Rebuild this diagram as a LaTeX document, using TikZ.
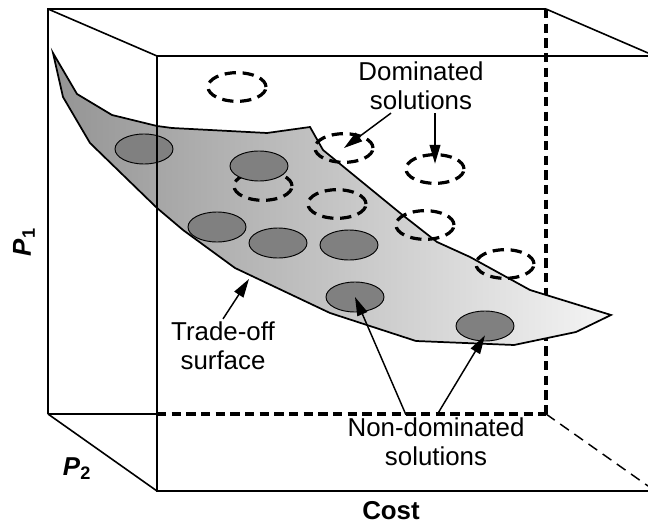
\documentclass[tikz,border=0pt]{standalone}
\usepackage{fontspec}
\setmainfont{Liberation Sans}
\usepackage{xcolor}
\usetikzlibrary{arrows.meta,positioning,calc,shapes.geometric}

\definecolor{surfdark}{gray}{0.58}
\definecolor{surflight}{gray}{0.96}
\definecolor{solgray}{gray}{0.5}

\begin{document}
\begin{tikzpicture}[x=0.75pt, y=-0.75pt,
  boxln/.style={line width=1.8pt},
  diagln/.style={line width=1.2pt},
  hidln/.style={line width=2.4pt, dash pattern=on 7pt off 4pt},
  sol/.style={ellipse, draw, line width=0.7pt, fill=solgray, minimum width=43.5pt, minimum height=22.5pt, inner sep=0pt},
  dom/.style={ellipse, draw, line width=2.4pt, dash pattern=on 8.5pt off 5pt, minimum width=43.5pt, minimum height=21.5pt, inner sep=0pt},
  lbl/.style={font=\fontsize{19.4pt}{22pt}\selectfont, align=center, inner sep=2pt},
  axlbl/.style={font=\fontsize{19.4pt}{22pt}\selectfont\bfseries, inner sep=2pt},
  arr/.style={-{Triangle[length=14pt,width=8pt]}, line width=1.1pt}
]
\useasboundingbox (0,0) rectangle (648,527);

% box corners
\coordinate (btl) at (48,9);
\coordinate (btr) at (546,9);
\coordinate (bbl) at (48,414);
\coordinate (bbr) at (546,414);
\coordinate (ftl) at (157,56);
\coordinate (fbl) at (157,491);

% back of the box
\draw[boxln] (bbl) -- (btl) -- (btr);
\draw[boxln] (bbl) -- (bbl -| ftl);
\draw[hidln] (bbl -| ftl) -- (bbr);
\draw[hidln] (btr) -- (bbr);
\draw[diagln] (btl) -- (ftl);
\draw[diagln] (bbl) -- (fbl);
\draw[diagln] (btr) -- (648,53);
\draw[line width=1.1pt, dash pattern=on 8pt off 5pt] (bbr) -- (648,486);

% trade-off surface
\draw[line width=1.3pt, left color=surfdark, right color=surflight]
  (53,53) -- (77,94) -- (112,115) -- (157,126) -- (172,128) -- (267,133)
  -- (310,127) -- (323,150) -- (400,213) -- (437,242) -- (470,257)
  -- (530,290) -- (611,315) -- (576,332) -- (514,345) -- (416,341)
  -- (330,313) -- (235,268) -- (183,230) -- (157,208) -- (90,143)
  -- (63,97) -- cycle;
\coordinate (edge) at (249,279);

% dominated solutions
\node[dom] (dom1) at (237,87) {};
\node[dom] (dom2) at (263,186) {};
\node[dom] (dom3) at (344,148) {};
\node[dom] (dom4) at (435,169) {};
\node[dom] (dom5) at (337,204) {};
\node[dom] (dom6) at (425,225) {};
\node[dom] (dom7) at (505,264) {};

% non-dominated solutions
\node[sol] (sol1) at (144,149) {};
\node[sol] (sol2) at (259,166) {};
\node[sol] (sol3) at (217,227) {};
\node[sol] (sol4) at (278,243) {};
\node[sol] (sol5) at (349,245) {};
\node[sol] (sol6) at (355,297) {};
\node[sol] (sol7) at (485,326) {};

% front of the box
\draw[boxln] (648,56) -- (ftl) -- (fbl) -- (648,491);

% labels
\node[lbl] (domlbl) at (421,86) {Dominated\\solutions};
\node[lbl] (tolbl) at (223,346) {Trade-off\\surface};
\node[lbl] (ndlbl) at (436,442) {Non-dominated\\solutions};
\node[axlbl] (cost) at (391,511) {Cost};
\node[axlbl, rotate=90] (p1) at (24,242) {\textit{P}\textsubscript{\upshape 1}};
\node[axlbl] (p2) at (77,469) {\textit{P}\textsubscript{\upshape 2}};

\draw[arr] ([xshift=-22.5pt]domlbl.south) -- (dom3.center);
\draw[arr] ([xshift=10.5pt]domlbl.south) -- ([yshift=4pt]dom4.center);
\draw[arr] (tolbl.north) -- (edge);
\draw[arr] ([xshift=-22.5pt]ndlbl.north) -- (sol6.center);
\draw[arr] ([xshift=0.75pt]ndlbl.north) -- ([yshift=-7pt]sol7.center);
\end{tikzpicture}
\end{document}
